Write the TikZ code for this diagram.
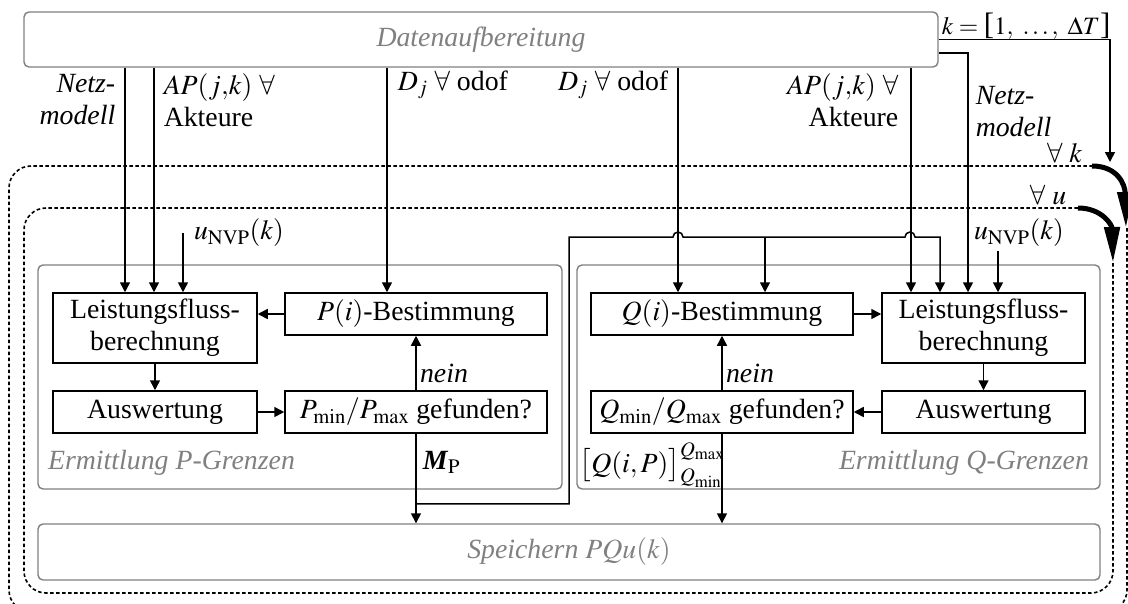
\documentclass[tikz,border=0pt]{standalone}
\usepackage{mathptmx}
\usepackage{fontspec}
\setmainfont{Liberation Serif}
\usetikzlibrary{arrows.meta}
\definecolor{framegray}{gray}{0.5}
\newcommand{\fsize}{\fontsize{27.8pt}{32pt}\selectfont}
\newcommand{\brsize}{\fontsize{31pt}{31pt}\selectfont}

\begin{document}
\begin{tikzpicture}[x=1pt, y=-1pt, line width=1.5pt, font=\fsize,
    >={Triangle[length=10pt,width=10pt]},
    procbox/.style={draw, inner sep=0pt, minimum width=262pt, minimum height=42pt, align=center},
    lfbox/.style={procbox, minimum width=204pt, minimum height=70pt},
    groupbox/.style={draw=framegray, line width=1.4pt, rounded corners=5pt},
    grouptext/.style={text=framegray, font=\fsize\itshape},
    itnote/.style={font=\fsize\itshape},
    loopline/.style={line width=1.6pt, dash pattern=on 3.5pt off 2.5pt, rounded corners=22pt},
    looparrow/.style={line width=5pt, -{Triangle[length=36pt,width=15pt]}}]
    \useasboundingbox (0,0) rectangle (1128,603);

    % Rahmen
    \node[groupbox, grouptext, inner sep=0pt, minimum width=914pt, minimum height=55pt] (daten) at (481,39.5) {Datenaufbereitung};
    \node[groupbox, grouptext, inner sep=0pt, minimum width=1062pt, minimum height=56pt] (speichern) at (569,552) {Speichern $PQu(k)$};
    \draw[groupbox] (38,265) rectangle (562,489);
    \draw[groupbox] (577,265) rectangle (1100,489);
    \node[grouptext, anchor=west] (ermP) at (44,463) {Ermittlung P-Grenzen};
    \node[grouptext, anchor=east] (ermQ) at (1093,463) {Ermittlung Q-Grenzen};

    % Schleifen
    \draw[loopline] (1113,263) -- (1113,593) -- (24,593) -- (24,208) -- (1078,208);
    \draw[loopline] (1127,228) -- (1127,612) -- (9,612) -- (9,166) -- (1092,166);
    \draw[looparrow] (1092,166) .. controls (1118,166) and (1125,185) .. (1126,228);
    \draw[looparrow] (1078,208) .. controls (1102,208) and (1112,225) .. (1113,263);
    \node[anchor=east, inner sep=1pt] (allk) at (1084,153) {$\forall\ k$};
    \node[anchor=east, inner sep=1pt] (allu) at (1068,195) {$\forall\ u$};

    % P-Grenzen
    \node[lfbox] (lfP) at (155,328) {Leistungsfluss-\\berechnung};
    \node[procbox] (pbest) at (416,314) {$P(i)$-Bestimmung};
    \node[procbox, minimum width=204pt] (auswP) at (155,412) {Auswertung};
    \node[procbox] (pfound) at (416,412) {$P_{\min}/P_{\max}$ gefunden?};
    \draw[->] (pbest.west) -- (pbest.west -| lfP.east);
    \draw[->] (lfP) -- (auswP);
    \draw[->] (auswP) -- (pfound);
    \draw[->] (pfound) -- node[itnote, right, pos=0.3] {nein} (pbest);

    % Q-Grenzen
    \node[procbox] (qbest) at (722,314) {$Q(i)$-Bestimmung};
    \node[lfbox, minimum width=203pt] (lfQ) at (983.5,328) {Leistungsfluss-\\berechnung};
    \node[procbox, minimum width=203pt] (auswQ) at (983.5,412) {Auswertung};
    \node[procbox] (qfound) at (722,412) {$Q_{\min}/Q_{\max}$ gefunden?};
    \draw[->] (qbest.east) -- (qbest.east -| lfQ.west);
    \draw[->] (lfQ) -- (auswQ);
    \draw[->] (auswQ) -- (qfound);
    \draw[->] (qfound) -- node[itnote, right, pos=0.3] {nein} (qbest);

    % Eingaenge
    \coordinate (inP1) at ([xshift=-30pt]lfP.north);
    \coordinate (inP2) at ([xshift=-1pt]lfP.north);
    \coordinate (inP3) at ([xshift=28pt]lfP.north);
    \coordinate (inPb) at ([xshift=-29pt]pbest.north);
    \coordinate (inQb1) at ([xshift=-44pt]qbest.north);
    \coordinate (inQb2) at ([xshift=43pt]qbest.north);
    \coordinate (inQ1) at ([xshift=-72.5pt]lfQ.north);
    \coordinate (inQ2) at ([xshift=-43.5pt]lfQ.north);
    \coordinate (inQ3) at ([xshift=-15.5pt]lfQ.north);
    \coordinate (inQ4) at ([xshift=14.5pt]lfQ.north);
    \coordinate (kEnd) at (1110,162);

    \draw[->] (daten.south -| inP1) -- (inP1);
    \draw[->] (daten.south -| inP2) -- (inP2);
    \draw[->] (daten.south -| inPb) -- (inPb);
    \draw[->] (daten.south -| inQb1) -- (inQb1);
    \draw[->] (daten.south -| inQ1) -- (inQ1);
    \draw[->] ([yshift=-13.5pt]daten.east) -| (inQ3);
    \draw[->] (daten.east) -| (kEnd);

    \node[anchor=west] (unvpP) at (190,233) {$u_{\mathrm{NVP}}(k)$};
    \draw[->] (inP3 |- unvpP.west) -- (inP3);
    \node (unvpQ) at (1019,233) {$u_{\mathrm{NVP}}(k)$};
    \draw[->] (unvpQ.south -| inQ4) -- (inQ4);

    % Beschriftungen
    \node[itnote, anchor=east, align=right, inner sep=1pt] (netzP) at (117,100) {Netz-\\modell};
    \node[anchor=west, align=left, inner sep=1pt] (aktP) at (162,100) {$AP(j{,}k)\ \forall$\\Akteure};
    \node[anchor=west, inner sep=1pt] (djP) at (396,85) {$D_j\ \forall$ odof};
    \node[anchor=east, inner sep=1pt] (djQ) at (670,85) {$D_j\ \forall$ odof};
    \node[anchor=east, align=right, inner sep=1pt] (aktQ) at (900,100) {$AP(j{,}k)\ \forall$\\Akteure};
    \node[itnote, anchor=west, align=left, inner sep=1pt] (netzQ) at (974,112) {Netz-\\modell};
    \node[anchor=west, inner sep=0pt, font=\fontsize{25pt}{30pt}\selectfont] (kdef) at (941,26)
      {$k=\mbox{\brsize[}1,\ \dots,\ \Delta T\mbox{\brsize]}$};

    % Ergebnisse
    \coordinate (fbA) at ([yshift=-70pt]pfound.south);
    \coordinate (fbTop) at (569,237);
    \coordinate (hop1) at (673,237);
    \coordinate (hop2) at (905,237);
    \draw[->] (pfound) -- (pfound.south |- speichern.north);
    \draw[->] (qfound) -- (qfound.south |- speichern.north);
    \draw[->] (fbA) -| (fbTop) -- (hop1) arc[start angle=180, end angle=0, radius=5pt]
      -- (hop2) arc[start angle=180, end angle=0, radius=5pt] -- (fbTop -| inQ2) -- (inQ2);
    \draw[->] (fbTop -| inQb2) -- (inQb2);
    \node[anchor=west, inner sep=1pt] (mp) at (421,462) {$\textbf{\textit{M}}_{\mathrm{P}}$};
    \node[anchor=west, inner sep=1pt] (qip) at (578,465) {$\bigl[Q(i,P)\bigr]^{Q_{\max}}_{Q_{\min}}$};
  \end{tikzpicture}
\end{document}
